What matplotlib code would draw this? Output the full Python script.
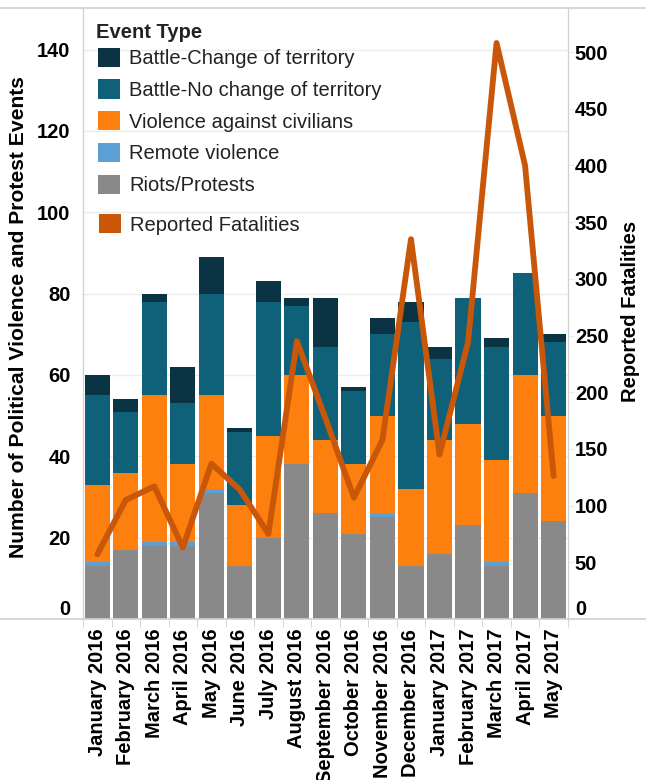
import numpy as np
import matplotlib
matplotlib.use("Agg")
import matplotlib.pyplot as plt
from matplotlib.patches import Patch
from matplotlib.lines import Line2D

plt.rcParams["font.family"] = ["Liberation Sans", "DejaVu Sans"]

months = ["January 2016", "February 2016", "March 2016", "April 2016", "May 2016",
          "June 2016", "July 2016", "August 2016", "September 2016", "October 2016",
          "November 2016", "December 2016", "January 2017", "February 2017",
          "March 2017", "April 2017", "May 2017"]
riots = [13, 17, 18, 18, 31, 13, 20, 38, 26, 21, 25, 13, 16, 23, 13, 31, 24]
remote = [1, 0, 1, 1, 1, 0, 0, 0, 0, 0, 1, 0, 0, 0, 1, 0, 0]
violence = [19, 19, 36, 19, 23, 15, 25, 22, 18, 17, 24, 19, 28, 25, 25, 29, 26]
battle_no_change = [22, 15, 23, 15, 25, 18, 33, 17, 23, 18, 20, 41, 20, 31, 28, 25, 18]
battle_change = [5, 3, 2, 9, 9, 1, 5, 2, 12, 1, 4, 5, 3, 0, 2, 0, 2]
fatalities = [57, 105, 117, 63, 137, 114, 75, 245, 177, 107, 158, 335, 145, 244, 508, 400, 126]

series = [
    ("Riots/Protests", riots, "#898989"),
    ("Remote violence", remote, "#5b9fd6"),
    ("Violence against civilians", violence, "#fd800e"),
    ("Battle-No change of territory", battle_no_change, "#0f6179"),
    ("Battle-Change of territory", battle_change, "#0a3444"),
]
line_color = "#c95709"
grid_color = "#ebebeb"
spine_color = "#d0d0d0"
fs = 14.5

fig = plt.figure(figsize=(6.46, 7.80), dpi=100)
ax = fig.add_axes([0.1285, 0.2064, 0.7505, 0.7821])
ax2 = ax.twinx()

x = np.arange(len(months))
bottom = np.zeros(len(months))
for name, vals, col in series:
    ax.bar(x, vals, bottom=bottom, width=0.88, color=col, zorder=2)
    bottom += np.array(vals)

ax2.plot(x, fatalities, color=line_color, lw=4.2, solid_capstyle="round",
         solid_joinstyle="round", zorder=3)

ax.set_xlim(-0.5, len(months) - 0.5)
ax.set_ylim(0, 150)
ax2.set_ylim(0, 538)
ax.set_yticks(range(0, 141, 20))
ax2.set_yticks(range(0, 501, 50))
ax.yaxis.grid(True, color=grid_color, lw=1, zorder=0)
ax.set_axisbelow(True)

ax.set_xticks(x)
ax.set_xticklabels(months, rotation=90, fontsize=fs, fontweight="bold")
ax.set_xticks(np.arange(-0.5, len(months)), minor=True)
ax.tick_params(axis="x", which="major", length=0, pad=7)
ax.tick_params(axis="x", which="minor", length=6, color=spine_color)
ax.tick_params(axis="y", labelsize=fs, length=0, pad=9)
ax2.tick_params(axis="y", labelsize=fs, length=4, color=grid_color, pad=1)
for a in (ax, ax2):
    labs = a.get_yticklabels()
    for lab in labs:
        lab.set_fontweight("bold")
    # bottom label sits above the baseline, as in the source
    labs[0].set_verticalalignment("bottom")

for a in (ax, ax2):
    for side in ("top", "bottom"):
        a.spines[side].set_visible(False)
    a.spines["left"].set_color(spine_color)
    a.spines["right"].set_color(spine_color)

ax.set_ylabel("Number of Political Violence and Protest Events", fontsize=15.2,
              fontweight="bold")
ax.yaxis.set_label_coords(-0.113, 0.495)
ax2.set_ylabel("Reported Fatalities", fontsize=fs, fontweight="bold")
ax2.yaxis.set_label_coords(1.109, 0.505)

# full-width frame lines (top and baseline)
fig.add_artist(Line2D([0, 1], [1 - 8 / 780, 1 - 8 / 780], color=spine_color, lw=1.2,
                      transform=fig.transFigure))
fig.add_artist(Line2D([0, 1], [1 - 619 / 780, 1 - 619 / 780], color=spine_color, lw=1.2,
                      transform=fig.transFigure))

fig.text(96 / 646, 1 - 32 / 780, "Event Type", fontsize=fs, fontweight="bold",
         color="#222222", va="center", ha="left")

handles = [Patch(facecolor=col, edgecolor="none") for _, _, col in series[::-1]]
labels = [name for name, _, _ in series[::-1]]
leg_kw = dict(loc="upper left", frameon=False, fontsize=fs, handlelength=1.1,
              handleheight=1.1, handletextpad=0.45, borderpad=0, borderaxespad=0,
              labelcolor="#222222")
leg = ax2.legend(handles, labels, labelspacing=0.56,
                 bbox_to_anchor=(98 / 646, 1 - 47.5 / 780),
                 bbox_transform=fig.transFigure, **leg_kw)
ax2.add_artist(leg)
ax2.legend([Patch(facecolor=line_color, edgecolor="none")], ["Reported Fatalities"],
           bbox_to_anchor=(99 / 646, 1 - 214 / 780), bbox_transform=fig.transFigure,
           **leg_kw)

fig.savefig("out.png", dpi=100)
